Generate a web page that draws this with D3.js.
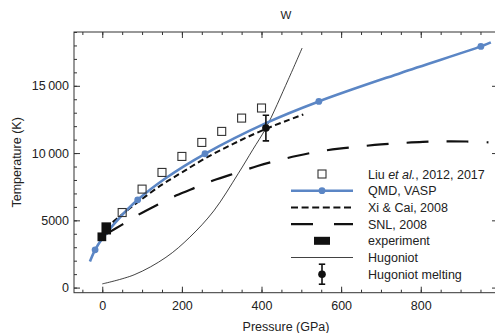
<!DOCTYPE html>
<html><head><meta charset="utf-8">
<script src="https://cdn.jsdelivr.net/npm/d3@7"></script>
<style>
body{margin:0;background:#fff}
text{font-family:"Liberation Sans",Arial,Helvetica,sans-serif;fill:#222}
</style>
</head><body>
<svg id="chart" width="495" height="333"></svg>
<script>
// Tungsten melting curve: temperature (K) versus pressure (GPa)
const liuP = [50, 100, 150, 200, 250, 300, 350, 400];
const liuT = [5580, 7320, 8560, 9750, 10790, 11610, 12600, 13350];

const qmdCurveP = [-31, -18, 0, 40, 89, 160, 258, 411, 544, 750, 951, 976];
const qmdCurveT = [1935, 2805, 3650, 5080, 6525, 8150, 9948, 12230, 13840, 15960, 17930, 18230];
const qmdPointP = [-18, 89, 258, 544, 951];
const qmdPointT = [2805, 6525, 9948, 13840, 17930];

const xiP = [8, 40, 89, 150, 200, 258, 330, 411, 505];
const xiT = [4400, 5200, 6350, 7650, 8560, 9600, 10700, 11800, 12870];

const snlP = [5, 50, 90, 140, 185, 235, 280, 340, 390, 440, 490, 545, 595, 650, 700, 755, 805, 860, 915, 970];
const snlT = [3900, 4680, 5400, 6180, 6840, 7450, 7980, 8560, 9040, 9450, 9800, 10120, 10330, 10500, 10640, 10750, 10830, 10870, 10860, 10800];

const expP0 = [-12, -2];
const expP1 = [10, 22];
const expT0 = [3450, 3950];
const expT1 = [4100, 4850];

const hugP = [0, 80, 160, 220, 280, 342, 378, 411, 467, 502];
const hugT = [275, 950, 2250, 3750, 5700, 8500, 10250, 11860, 15450, 17810];

const meltP = [411];
const meltT = [11860];
const meltErr = [950];

const xMajor = [0, 200, 400, 600, 800];
const yMajor = [0, 5000, 10000, 15000];
const xMinor = d3.range(-50, 1000, 50);
const yMinor = d3.range(0, 20000, 1000);

const legendLabels = ["Liu et al., 2012, 2017", "QMD, VASP", "Xi & Cai, 2008", "SNL, 2008", "experiment", "Hugoniot", "Hugoniot melting"];

const blue = "#5b86c5";
const svg = d3.select("#chart");
const L = 74, R = 498, T = 32, B = 292.7;
const x = d3.scaleLinear().domain([-71, 994]).range([L, R]);
const y = d3.scaleLinear().domain([-380, 19000]).range([B, T]);

svg.append("defs").append("clipPath").attr("id", "plotclip")
  .append("rect").attr("x", L).attr("y", T).attr("width", R - L).attr("height", B - T);

const plot = svg.append("g").attr("clip-path", "url(#plotclip)");
const line = d3.line().x(d => x(d[0])).y(d => y(d[1])).curve(d3.curveCatmullRom.alpha(0.5));
const zip = (a, b) => a.map((v, i) => [v, b[i]]);

// Hugoniot
plot.append("path").attr("d", line(zip(hugP, hugT)))
  .attr("fill", "none").attr("stroke", "#111").attr("stroke-width", 0.8);
// SNL 2008
plot.append("path").attr("d", line(zip(snlP, snlT)))
  .attr("fill", "none").attr("stroke", "#111").attr("stroke-width", 2.2)
  .attr("stroke-dasharray", "22,18");
// Xi & Cai 2008
plot.append("path").attr("d", line(zip(xiP, xiT)))
  .attr("fill", "none").attr("stroke", "#111").attr("stroke-width", 2)
  .attr("stroke-dasharray", "6,3.5");
// QMD curve
plot.append("path").attr("d", line(zip(qmdCurveP, qmdCurveT)))
  .attr("fill", "none").attr("stroke", blue).attr("stroke-width", 2.6);
plot.selectAll("circle.qmd").data(zip(qmdPointP, qmdPointT)).join("circle")
  .attr("class", "qmd").attr("cx", d => x(d[0])).attr("cy", d => y(d[1])).attr("r", 3.4)
  .attr("fill", blue);
// Liu et al. squares
plot.selectAll("rect.liu").data(zip(liuP, liuT)).join("rect")
  .attr("class", "liu").attr("x", d => x(d[0]) - 4).attr("y", d => y(d[1]) - 4)
  .attr("width", 8).attr("height", 8).attr("fill", "none")
  .attr("stroke", "#333").attr("stroke-width", 1.1);
// Experiment boxes
plot.selectAll("rect.exp").data(expP0.map((p, i) => [p, expP1[i], expT0[i], expT1[i]])).join("rect")
  .attr("class", "exp").attr("x", d => x(d[0])).attr("y", d => y(d[3]))
  .attr("width", d => x(d[1]) - x(d[0])).attr("height", d => y(d[2]) - y(d[3]))
  .attr("fill", "#111");
// Hugoniot melting with error bar
const melt = plot.selectAll("g.melt").data(meltP.map((p, i) => [p, meltT[i], meltErr[i]])).join("g").attr("class", "melt");
melt.append("line").attr("x1", d => x(d[0])).attr("x2", d => x(d[0]))
  .attr("y1", d => y(d[1] + d[2])).attr("y2", d => y(d[1] - d[2])).attr("stroke", "#111").attr("stroke-width", 1.6);
melt.append("line").attr("x1", d => x(d[0]) - 3.2).attr("x2", d => x(d[0]) + 3.2)
  .attr("y1", d => y(d[1] + d[2])).attr("y2", d => y(d[1] + d[2])).attr("stroke", "#111").attr("stroke-width", 1.6);
melt.append("line").attr("x1", d => x(d[0]) - 3.2).attr("x2", d => x(d[0]) + 3.2)
  .attr("y1", d => y(d[1] - d[2])).attr("y2", d => y(d[1] - d[2])).attr("stroke", "#111").attr("stroke-width", 1.6);
melt.append("circle").attr("cx", d => x(d[0])).attr("cy", d => y(d[1])).attr("r", 3.8).attr("fill", "#111");

// Frame and ticks (pointing inward)
const fmt = d => d >= 10000 ? d3.format(",")(d).replace(",", "\u2009") : String(d);
function axisG(axis, tx, ty) {
  const g = svg.append("g").attr("transform", `translate(${tx},${ty})`).call(axis);
  g.select(".domain").remove();
  g.selectAll("line").attr("stroke", "#333");
  g.selectAll("text").attr("font-size", "12.5px").attr("fill", "#222")
    .attr("font-family", '"Liberation Sans",Arial,sans-serif');
  return g;
}
axisG(d3.axisBottom(x).tickValues(xMinor).tickSize(-3).tickFormat(""), 0, B);
axisG(d3.axisBottom(x).tickValues(xMajor).tickSize(-6).tickPadding(8).tickFormat(d3.format("d")), 0, B);
axisG(d3.axisTop(x).tickValues(xMinor).tickSize(-3).tickFormat(""), 0, T);
axisG(d3.axisTop(x).tickValues(xMajor).tickSize(-6).tickFormat(""), 0, T);
axisG(d3.axisLeft(y).tickValues(yMinor).tickSize(-3).tickFormat(""), L, 0);
axisG(d3.axisLeft(y).tickValues(yMajor).tickSize(-6).tickPadding(5).tickFormat(fmt), L, 0);
axisG(d3.axisRight(y).tickValues(yMinor).tickSize(-3).tickFormat(""), R, 0);
axisG(d3.axisRight(y).tickValues(yMajor).tickSize(-6).tickFormat(""), R, 0);
svg.append("rect").attr("x", L).attr("y", T).attr("width", R - L).attr("height", B - T)
  .attr("fill", "none").attr("stroke", "#333").attr("stroke-width", 1);

// Titles
svg.append("text").attr("x", (L + R) / 2).attr("y", 19).attr("text-anchor", "middle")
  .attr("font-size", "11.5px").text("W");
svg.append("text").attr("x", (L + R) / 2).attr("y", 331).attr("text-anchor", "middle")
  .attr("font-size", "12.5px").text("Pressure (GPa)");
svg.append("text").attr("transform", `translate(21,${(T + B) / 2}) rotate(-90)`)
  .attr("text-anchor", "middle").attr("font-size", "12.5px").text("Temperature (K)");

// Legend
const lg = svg.append("g");
const sx0 = 291, sx1 = 353, sxc = 322, tx = 368, ly0 = 174, dy = 16.7;
legendLabels.forEach((lab, i) => {
  const cy = ly0 + i * dy;
  const t = lg.append("text").attr("x", tx).attr("y", cy + 4.5).attr("font-size", "12.5px");
  if (i === 0) {
    t.append("tspan").text("Liu ");
    t.append("tspan").attr("font-style", "italic").text("et al.");
    t.append("tspan").text(", 2012, 2017");
  } else {
    t.text(lab);
  }
  if (i === 0) {
    lg.append("rect").attr("x", sxc - 4).attr("y", cy - 4).attr("width", 8).attr("height", 8)
      .attr("fill", "none").attr("stroke", "#333").attr("stroke-width", 1.1);
  } else if (i === 1) {
    lg.append("line").attr("x1", sx0).attr("x2", sx1).attr("y1", cy).attr("y2", cy)
      .attr("stroke", blue).attr("stroke-width", 2.6);
    lg.append("circle").attr("cx", sxc).attr("cy", cy).attr("r", 3.4).attr("fill", blue);
  } else if (i === 2) {
    lg.append("line").attr("x1", sx0).attr("x2", sx1).attr("y1", cy).attr("y2", cy)
      .attr("stroke", "#111").attr("stroke-width", 2).attr("stroke-dasharray", "7,3.6");
  } else if (i === 3) {
    lg.append("line").attr("x1", sx0).attr("x2", sx1).attr("y1", cy).attr("y2", cy)
      .attr("stroke", "#111").attr("stroke-width", 2.2).attr("stroke-dasharray", "22,21");
  } else if (i === 4) {
    lg.append("rect").attr("x", sxc - 8).attr("y", cy - 4).attr("width", 16).attr("height", 8).attr("fill", "#111");
  } else if (i === 5) {
    lg.append("line").attr("x1", sx0).attr("x2", sx1).attr("y1", cy).attr("y2", cy)
      .attr("stroke", "#111").attr("stroke-width", 0.8);
  } else {
    lg.append("line").attr("x1", sxc).attr("x2", sxc).attr("y1", cy - 10).attr("y2", cy + 10)
      .attr("stroke", "#111").attr("stroke-width", 1.6);
    [cy - 10, cy + 10].forEach(yy => lg.append("line").attr("x1", sxc - 3.2).attr("x2", sxc + 3.2)
      .attr("y1", yy).attr("y2", yy).attr("stroke", "#111").attr("stroke-width", 1.6));
    lg.append("circle").attr("cx", sxc).attr("cy", cy).attr("r", 3.8).attr("fill", "#111");
  }
});
</script>
</body></html>
